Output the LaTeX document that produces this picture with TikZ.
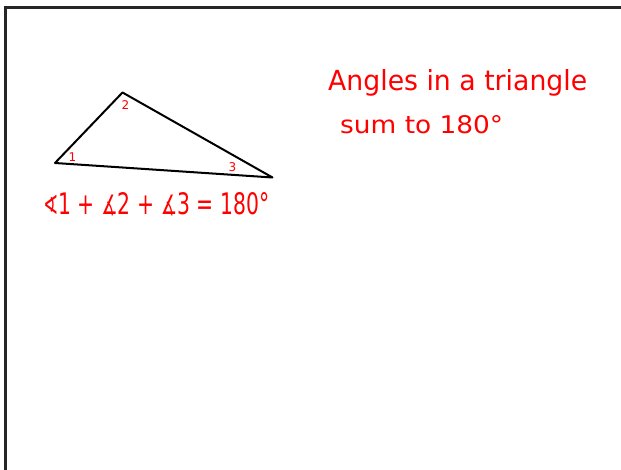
\documentclass[tikz,border=0pt]{standalone}
\usepackage{fontspec}
\setmainfont{DejaVu Sans}
\usepackage{graphicx}
\newcommand{\smallang}[1]{\scalebox{0.9}{#1}}
\begin{document}
\begin{tikzpicture}[x=1pt,y=-1pt,
  hand/.style={text=red,inner sep=0pt,anchor=base west},
  lbl/.style={text=red,inner sep=0pt,font=\fontsize{12}{12}\selectfont}]
\useasboundingbox (0,0) rectangle (621,470);
\fill[white] (0,0) rectangle (621,470);
% frame
\draw[line width=2.5pt,black!85] (5.3,470) -- (5.3,7.3) -- (621,7.3);
% triangle
\coordinate (A) at (55,163);
\coordinate (B) at (122.5,92.5);
\coordinate (C) at (272.5,177.5);
\draw[line width=2pt,line join=round] (A) -- (B) -- (C) -- cycle;
% angle labels
\node[lbl] (l1) at (72.5,157.5) {1};
\node[lbl] (l2) at (125.5,105.5) {2};
\node[lbl] (l3) at (232.5,167.5) {3};
% equation
\node[hand] (eq) at (43,215) {\resizebox{226pt}{22pt}{\smallang{∢}1 + \smallang{∡}2 + \smallang{∡}3 = 180°}};
% title
\node[hand] (t1) at (328,91) {\resizebox{259pt}{21pt}{Angles in a triangle}};
\node[hand] (t2) at (340,134) {\resizebox{163pt}{18pt}{sum to 180°}};
\end{tikzpicture}
\end{document}
